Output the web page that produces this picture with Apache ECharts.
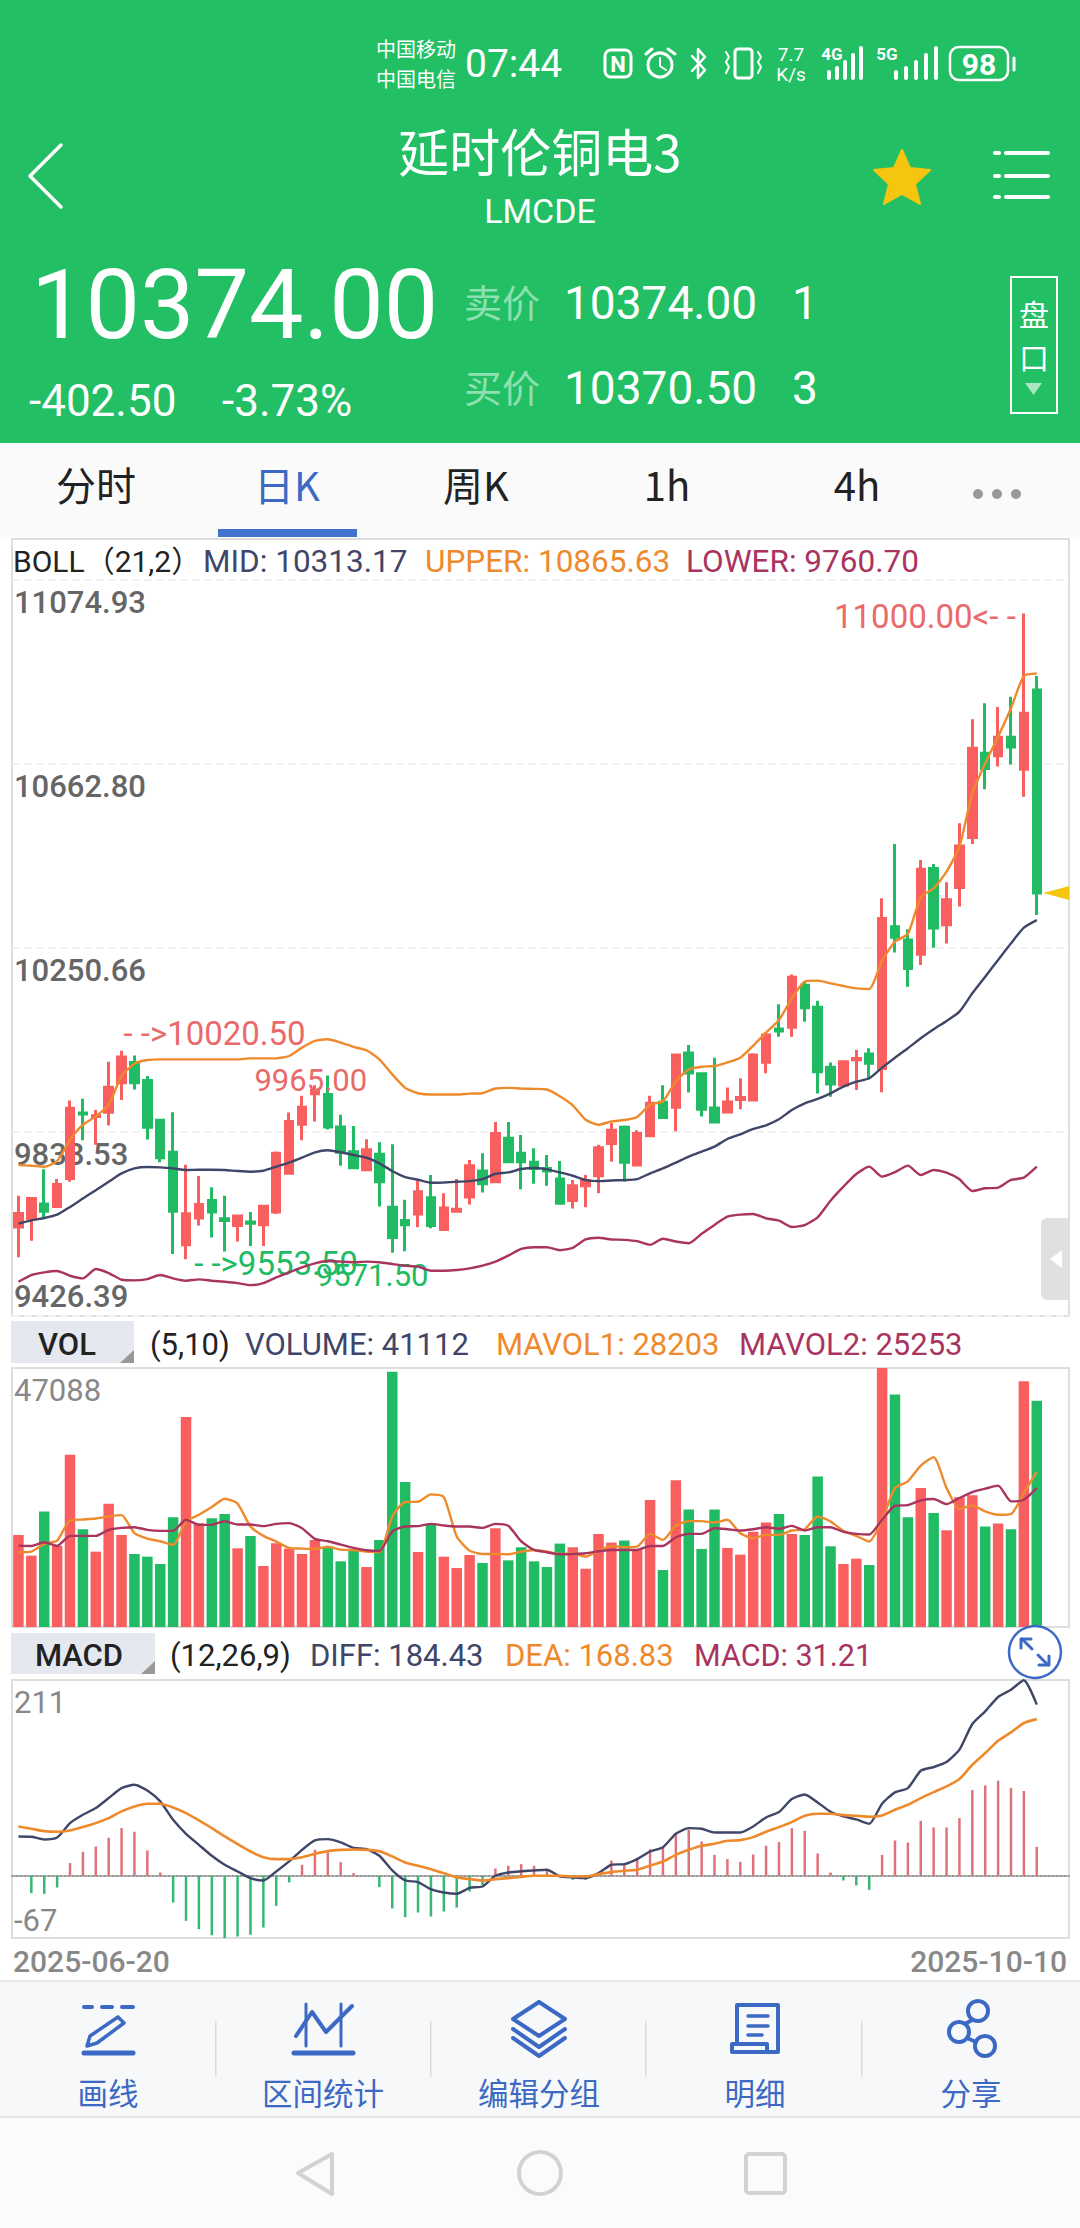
<!DOCTYPE html>
<html>
<head>
<meta charset="utf-8">
<style>html,body{margin:0;padding:0;background:#fff}#chart{width:1080px;height:2228px}</style>
<script src="https://cdn.jsdelivr.net/npm/echarts@6/dist/echarts.min.js"></script>
</head>
<body>
<div id="chart"></div>
<script>
// 日K data. rows are [open, close, low, high]
const ohlc = [
  [9626,9656,9558,9696],[9644,9689.5,9595,9692.5],[9677,9661,9648,9755],[9671.5,9721,9670,9733],[9734.5,9892,9727,9909],
  [9881,9879,9820,9913],[9873.5,9875,9810,9888],[9883,9939,9853,9996],[9949,10006.5,9910,10020.5],[9994,9949,9934,10010],
  [9954,9849,9822,9964],[9865,9781,9771,9868],[9793,9661,9565.5,9883],[9586,9655.5,9553.5,9765],[9646,9676,9629,9740],
  [9685,9659.5,9602,9715],[9644.5,9640.5,9571,9695.5],[9629,9650.5,9593,9652],[9637,9634,9583,9659.5],[9631,9672,9583,9673],
  [9659.5,9791,9655,9795],[9746,9862,9746,9882],[9856,9894,9820,9919.5],[9924,9931.5,9862,9943.5],[9922.5,9850,9844,9965],
  [9850,9793,9763,9877],[9794.5,9758.5,9757,9852],[9754,9799,9751,9822.5],[9788.5,9727,9671.5,9815.5],[9670,9602,9568,9811],
  [9640.5,9631,9571.5,9687],[9655,9704.5,9625,9728.5],[9691.5,9629,9623,9742],[9620,9668.5,9619,9701.5],[9661,9665.5,9661,9733],
  [9693,9763,9676,9776],[9751,9722.5,9703,9791],[9727,9835,9725.5,9861],[9824.5,9772,9770.5,9861],[9791,9772,9710.5,9832],
  [9770.5,9757,9722.5,9802],[9757,9751,9718,9787],[9733,9679,9676,9773.5],[9685,9718,9667,9731],[9718,9730,9670,9742],
  [9740.5,9803.5,9701.5,9810],[9812.5,9842.5,9772,9858.5],[9849,9770.5,9727,9853],[9764.5,9835,9764.5,9842.5],[9830,9903,9828.5,9919.5],
  [9905,9871,9871,9943.5],[9894,10011,9840,10011],[10015.5,9970.5,9927,10033.5],[9969,9889.5,9873,9970.5],[9892.5,9861,9858,10005],
  [9883.5,9906,9883.5,9938],[9911.5,9916,9889.5,9959],[9910,10011,9910,10015],[9994.5,10056,9970,10062],[10069.5,10065,10052,10124.5],
  [10073,10185,10052,10191.5],[10167,10117,10085.5,10175.5],[10118,9973.5,9925,10132.5],[9983.5,9946,9917.5,9994],[9944,9996,9940,9998.5],
  [10000.5,10003,9932.5,10022],[10013.5,9992.5,9956.5,10026],[9981,10317,9927.5,10362],[10298.5,10274.5,10240.5,10483.5],[10268.5,10205,10164,10292.5],
  [10236.5,10427,10212.5,10448],[10429,10295.5,10251.5,10439],[10302.5,10358.5,10261,10398],[10386,10479,10343.5,10530],[10498,10698,10483.5,10763],
  [10687,10652.5,10606,10799],[10681.5,10722.5,10657,10790.5],[10722.5,10701,10661.5,10813.5],[10651,10776.5,10589.5,11000],[10828.5,10374,10324.5,10860]
];
const bollUpper = [
  9764.6,9763.1,9760.8,9773.6,9820.9,9854.8,9873.5,9899.8,9963.7,9991.5,
  9999.8,10001.3,10001.3,10001.3,10001.3,10001.3,10001.3,10001.3,10003.5,10003.5,
  10003.5,10008.8,10027.6,10042.6,10046.4,10038.9,10029.1,10021.6,10001.3,9967.5,
  9937.4,9925.4,9922.4,9922.4,9922.4,9924.6,9925.4,9935.9,9937.4,9935.9,
  9935.2,9933.7,9918.6,9898.3,9866,9854.8,9862.3,9865.3,9872.1,9899.8,
  9907.4,9952.4,9978.7,9984.8,9986.3,9994.6,10005.1,10031.9,10061.1,10089.4,
  10138,10175.3,10177.5,10171.5,10165.6,10160.3,10158.9,10222,10264.9,10282.1,
  10364.2,10384.4,10421.7,10477.7,10597.2,10664.4,10724.1,10787.6,10860,10865.63
];
const bollMid = [
  9633.1,9640.6,9645.9,9653.4,9670.7,9689.5,9708.2,9727,9745.8,9757.1,
  9760.1,9759.3,9757.1,9753.3,9754.1,9754.1,9753.3,9751.1,9749.6,9751.8,
  9760.8,9769.9,9781.1,9793.1,9797.6,9793.1,9787.1,9781.1,9768.4,9751.1,
  9737.5,9731.5,9724.8,9725.5,9727,9728.5,9733,9745,9748,9755.6,
  9757.8,9754.8,9748,9740.5,9730.8,9728.5,9730,9730.8,9733,9745.8,
  9757.1,9769.9,9783.4,9794.7,9805.9,9822.9,9833.3,9845.3,9853.5,9866.9,
  9887.8,9902.8,9912.5,9925.2,9940.1,9951.3,9958.8,9982.7,10005,10026,
  10048.4,10068.5,10087.2,10108.1,10149.2,10186.5,10223.8,10261.2,10296.2,10313.17
];
const bollLower = [
  9503.1,9518.1,9524.1,9527.1,9516.6,9510.6,9531.7,9522.6,9507.6,9506.1,
  9509.1,9518.1,9510.6,9505.4,9508.4,9505.4,9503.1,9500.1,9495.6,9500.1,
  9512.9,9524.1,9535.4,9544.4,9549.7,9548.2,9546.7,9548.2,9546.7,9542.9,
  9539.2,9536.9,9527.9,9527.9,9529.4,9533.2,9539.2,9548.2,9561.7,9576.7,
  9580.5,9580.5,9573.7,9579,9597.8,9601.5,9597.8,9597,9594,9585.8,
  9599.3,9593.3,9589.5,9610.6,9630.5,9648.9,9653.4,9654.9,9645.2,9639.9,
  9625.7,9630.2,9647.4,9684.7,9716.1,9744.4,9760.9,9738.5,9748.5,9763.2,
  9742.3,9753.5,9747.5,9732.5,9706.4,9712.4,9713.9,9731.1,9736.3,9760.7
];
const volume = [
  16748,12972,21011,14738,31303,17783,13703,22411,16748,13276,
  12789,11449,19975,38184,18879,19793,20523,14312,16565,11084,
  15225,14251,13276,15834,14616,11936,14007,10901,15834,46406,
  26370,13642,18575,12789,10718,13094,11632,17966,12119,14494,
  11936,10901,15164,14494,10597,16930,15347,15712,14007,23081,
  10353,26674,21376,14190,21376,14372,13154,17296,19001,20523,
  16930,16748,27344,14677,11449,12424,11267,47088,42265,19975,
  25274,20706,17600,23568,23934,18270,18818,17783,44701,41112
];
const mavol1 = [
  13581,13703,15103,15712,19366,19549,19732,20097,20341,17052,
  16078,15590,14921,19184,20402,21802,23325,22411,18270,16565,
  15530,14372,14251,14190,14616,14068,14007,13703,13642,20097,
  22716,22777,24116,23629,16443,13885,13276,13276,13215,13703,
  14007,13703,13276,13398,12789,13885,14738,14494,14616,16930,
  15834,18392,19244,19244,19001,19488,17052,16139,16748,16748,
  17539,17783,20097,19184,17478,16565,15530,19488,25274,26492,
  29354,30876,25274,21437,22107,21011,20402,20523,24360,28203
];
const mavol2 = [
  14799,14738,15408,14738,16565,16565,16565,17661,18026,18148,
  17661,17478,17478,19488,18575,18575,19244,18635,18635,18331,
  18757,18879,17966,16017,15590,14981,14372,13946,13824,17357,
  18270,18331,18757,18453,18270,18270,18026,18757,18392,15590,
  14007,13581,13215,13276,13398,13763,14007,14007,14007,14738,
  14738,16321,16930,16930,17966,17783,17539,17783,18148,17844,
  18392,17539,18148,18148,17296,16930,16808,19488,22046,22168,
  23020,23264,22350,23447,24543,25152,25700,22838,23142,25253
];
const diff = [
  42.4,42.1,39.2,41.3,56.8,65.8,73,83.8,94.5,98.1,
  92,80.2,60.4,45.3,33.4,21.6,11.9,4.7,-2.5,-5,
  4.7,15.5,28,38.1,39.5,36,30.2,28.8,21.6,5.8,
  -5,-6.8,-14.4,-18,-19.4,-12.9,-11.5,0,3.6,5,
  5.8,6.5,-0.7,-1.8,-2.5,2.9,11.9,12.6,18,26.2,
  30.9,45.3,51.4,50.7,46.7,46.7,46.7,53.2,62.9,68.7,
  82.7,87.7,79.1,69,64,60.8,56.1,77.7,89.9,94.5,
  113.2,117.2,122.6,135.9,163.6,177.2,192.7,200.6,210.7,184.43
];
const dea = [
  53.2,50.7,48.2,47.5,48.9,52.5,56.8,62.2,69.4,74.8,
  77.7,77.7,73.7,67.6,59.7,51.4,42.4,34.2,26.2,20.1,
  18,18,20.1,23.7,26.6,28,28.4,28,26.6,20.9,
  14.4,10.8,7.2,2.9,-1.4,-3.6,-5,-3.6,-2.5,-1.1,
  0,0,0,-0.7,-0.7,1.8,4,5.4,6.5,11.1,
  15.5,22.6,28,32.4,34.5,37.7,38.5,41.7,47.5,52.5,
  57.9,64.7,66.9,66.9,65.4,64.7,63.6,65.1,71.2,76.6,
  83.8,90.2,96.3,104.3,119.7,132.3,145.6,154.6,164.7,168.83
];
const macd = [
  0,-18.7,-19.4,-12.6,13.7,25.9,31.6,41,51.4,47.5,
  27.3,3.6,-28.8,-48.5,-57.5,-64,-67,-65.4,-63.6,-55.7,
  -32.4,-7.2,11.9,28,25.2,14.7,2.9,0,-12.2,-35.2,
  -44.6,-39.5,-43.9,-38.5,-34.2,-16.9,-9.7,7.9,10.8,12.6,
  10.8,7.2,-1.4,-4.3,-4.3,4,16.5,12.9,18,28.8,
  30.2,46,49.6,37,22.6,18,15.1,23,32.4,36.3,
  51.4,48.5,24.1,3.6,-5,-10.4,-15.1,22.6,38.1,35.9,
  59.3,52.1,52.1,62.2,92.4,97.4,102.5,94.5,91.3,31.21
];
const priceTicks = [9426.39, 9838.53, 10250.66, 10662.80, 11074.93];
const volTicks = [47088];
const macdTicks = [-67, 211];
const dates = ['2025-06-20', '2025-10-10'];
const tabs = ['分时', '日K', '周K', '1h', '4h'];
const tools = ['画线', '区间统计', '编辑分组', '明细', '分享'];

const RED = '#f95f5f', GREEN = '#20bb62', ORANGE = '#ee8a2c', NAVY = '#3f4668', CRIMSON = '#a8345f';
const BLUE = '#3c69c4', NUM = 'Roboto, "Noto Sans CJK SC", sans-serif', CJK = '"Noto Sans CJK SC", Roboto, sans-serif';

// 82 slots: the last two stay empty, as the app leaves room on the right
const categories = [];
for (let i = 0; i < 82; i++) categories.push(i < ohlc.length ? String(i) : '');

function txt(x, y, text, size, fill, opt) {
  opt = opt || {};
  return {
    type: 'text', x: x, y: y, z: 20,
    style: {
      text: text, fill: fill, fontSize: size, fontFamily: opt.font || NUM, fontWeight: opt.weight || 400,
      align: opt.align || 'left', verticalAlign: 'middle'
    }
  };
}
function rect(x, y, w, h, fill, r) {
  return { type: 'rect', z: 19, shape: { x: x, y: y, width: w, height: h, r: r || 0 }, style: { fill: fill } };
}
function line(points, color, width) {
  return { type: 'polyline', z: 20, shape: { points: points }, style: { stroke: color, lineWidth: width || 2, fill: null, lineCap: 'round', lineJoin: 'round' } };
}
function circle(cx, cy, r, color, width) {
  return { type: 'circle', z: 20, shape: { cx: cx, cy: cy, r: r }, style: { stroke: color, lineWidth: width || 2, fill: null } };
}
function box(x, y, w, h, r, color, width) {
  return { type: 'rect', z: 20, shape: { x: x, y: y, width: w, height: h, r: r }, style: { stroke: color, lineWidth: width || 2, fill: null } };
}
function solid(points, fill) {
  return { type: 'polygon', z: 20, shape: { points: points }, style: { fill: fill } };
}

var g = [];
// header
g.push(rect(0, 0, 1080, 443, '#22bf64'));
g.push(rect(0, 443, 1080, 94, '#fafafa'));
g.push(txt(376, 48, '中国移动', 20, '#fff', { font: CJK }));
g.push(txt(376, 78, '中国电信', 20, '#fff', { font: CJK }));
g.push(txt(465, 64, '07:44', 39, '#fff'));
g.push(box(605, 50, 26, 27, 6, '#fff', 3), txt(618, 64, 'N', 22, '#fff', { align: 'center', weight: 700 }));
g.push(circle(660, 65, 12, '#fff', 3), line([[660, 58], [660, 66], [666, 70]], '#fff', 2), line([[646, 54], [652, 49]], '#fff', 3), line([[668, 49], [675, 54]], '#fff', 3));
g.push(line([[692, 56], [705, 70], [698, 78], [698, 49], [705, 57], [692, 71]], '#fff', 2.5));
g.push(box(735, 49, 17, 29, 3, '#fff', 3), line([[726, 52], [729, 57], [726, 62], [729, 67], [726, 73]], '#fff', 2), line([[758, 52], [761, 57], [758, 62], [761, 67], [758, 73]], '#fff', 2));
g.push(txt(791, 54, '7.7', 19, '#fff', { align: 'center' }), txt(791, 74, 'K/s', 19, '#fff', { align: 'center' }));
g.push(txt(832, 54, '4G', 17, '#fff', { align: 'center', weight: 700 }), txt(887, 54, '5G', 17, '#fff', { align: 'center', weight: 700 }));
[[829, 72], [837, 68], [845, 62], [853, 55], [861, 48]].forEach(function (b) { g.push(line([[b[0], b[1]], [b[0], 78]], '#fff', 4)); });
[[896, 72], [906, 68], [916, 62], [926, 55], [936, 48]].forEach(function (b) { g.push(line([[b[0], b[1]], [b[0], 78]], '#fff', 4)); });
g.push(box(950, 47, 58, 33, 9, '#fff', 2.5), txt(979, 64, '98', 30, '#fff', { align: 'center', weight: 700 }), line([[1014, 58], [1014, 70]], '#fff', 3));

g.push(line([[61, 145], [30, 176], [61, 207]], '#fff', 3.5));
g.push(txt(540, 150, '延时伦铜电3', 51, '#fff', { font: CJK, align: 'center' }));
g.push(txt(540, 211, 'LMCDE', 34, '#fff', { align: 'center' }));
g.push({
  type: 'polygon', z: 20,
  shape: { points: [[902, 150], [910, 168], [930, 170], [915, 184], [920, 204], [902, 194], [884, 204], [889, 184], [874, 170], [894, 168]] },
  style: { fill: '#f6c50f', stroke: '#f6c50f', lineWidth: 2, lineJoin: 'round' }
});
[153, 176, 197].forEach(function (y) {
  g.push(line([[995, y], [999, y]], '#fff', 4), line([[1006, y], [1048, y]], '#fff', 4));
});
g.push(txt(31, 305, '10374.00', 97, '#fff'));
g.push(txt(29, 401, '-402.50', 44, '#fff'), txt(222, 401, '-3.73%', 44, '#fff'));
g.push(txt(464, 300, '卖价', 38, '#8fe0b0', { font: CJK }), txt(564, 303, '10374.00', 46, '#fff'), txt(805, 303, '1', 46, '#fff', { align: 'center' }));
g.push(txt(464, 385, '买价', 38, '#8fe0b0', { font: CJK }), txt(564, 388, '10370.50', 46, '#fff'), txt(805, 388, '3', 46, '#fff', { align: 'center' }));
g.push(box(1011, 277, 46, 136, 0, '#fff', 2), txt(1034, 313, '盘', 30, '#fff', { font: CJK, align: 'center' }), txt(1034, 356, '口', 30, '#fff', { font: CJK, align: 'center' }));
g.push(solid([[1025, 383], [1042, 383], [1033.5, 395]], '#a8e6c4'));

// tabs
var tabX = [96, 287, 476, 667, 857];
tabs.forEach(function (t, i) {
  g.push(txt(tabX[i], 484, t, 40, i === 1 ? BLUE : '#222', { font: CJK, align: 'center' }));
});
g.push(rect(218, 529, 139, 8, '#4473cf'));
[978, 997, 1016].forEach(function (x) { g.push({ type: 'circle', z: 20, shape: { cx: x, cy: 494, r: 5 }, style: { fill: '#999' } }); });

// boll legend
g.push(txt(13, 561, 'BOLL（21,2）', 30, '#222', { font: NUM }));
g.push(txt(203, 561, 'MID: 10313.17', 31.5, NAVY), txt(425, 561, 'UPPER: 10865.63', 31.5, ORANGE), txt(686, 561, 'LOWER: 9760.70', 31.5, CRIMSON));
// side handle
g.push({ type: 'rect', z: 19, shape: { x: 1041, y: 1218, width: 27, height: 82, r: [6, 0, 0, 6] }, style: { fill: '#e0e0e0' } });
g.push(solid([[1062, 1250], [1062, 1268], [1050, 1259]], '#fff'));

// vol legend
g.push(rect(11, 1321, 123, 42, '#e6e8f0'), solid([[134, 1350], [134, 1363], [120, 1363]], '#999'));
g.push(txt(67, 1344, 'VOL', 31, '#222', { align: 'center', weight: 500 }));
g.push(txt(150, 1344, '(5,10)', 31, '#222'), txt(245, 1344, 'VOLUME: 41112', 31, NAVY), txt(496, 1344, 'MAVOL1: 28203', 31, ORANGE), txt(739, 1344, 'MAVOL2: 25253', 31, CRIMSON));
// macd legend
g.push(rect(11, 1633, 144, 41, '#e6e8f0'), solid([[155, 1661], [155, 1674], [141, 1674]], '#999'));
g.push(txt(79, 1655, 'MACD', 31, '#222', { align: 'center', weight: 500 }));
g.push(txt(170, 1655, '(12,26,9)', 31, '#222'), txt(310, 1655, 'DIFF: 184.43', 31, NAVY), txt(505, 1655, 'DEA: 168.83', 31, ORANGE), txt(694, 1655, 'MACD: 31.21', 30.5, CRIMSON));
g.push({ type: 'circle', z: 20, shape: { cx: 1035, cy: 1652, r: 26 }, style: { fill: '#fff', stroke: BLUE, lineWidth: 2.5 } });
g.push(line([[1022, 1639], [1032, 1649]], BLUE, 3), line([[1021, 1648], [1021, 1639], [1031, 1639]], BLUE, 3), line([[1038, 1655], [1048, 1665]], BLUE, 3), line([[1049, 1656], [1049, 1665], [1039, 1665]], BLUE, 3));

// dates
g.push(txt(13, 1961, dates[0], 30, '#888', { weight: 500 }), txt(1067, 1961, dates[1], 30, '#888', { weight: 500, align: 'right' }));

// toolbar
g.push(rect(0, 1981, 1080, 136, '#f7f8f9'), rect(0, 2117, 1080, 111, '#fbfbfb'));
g.push(rect(0, 1980, 1080, 2, '#e6e6e6'), rect(0, 2116, 1080, 2, '#e6e6e6'));
[215, 430, 645, 861].forEach(function (x) { g.push(rect(x, 2021, 1.5, 56, '#dcdcdc')); });
var toolX = [108, 323, 539, 755, 971];
tools.forEach(function (t, i) { g.push(txt(toolX[i], 2092, t, 30.5, BLUE, { font: CJK, align: 'center' })); });
// 画线
g.push(line([[84, 2007], [92, 2007]], BLUE, 4), line([[102, 2007], [112, 2007]], BLUE, 4), line([[122, 2007], [133, 2007]], BLUE, 4), line([[84, 2053], [133, 2053]], BLUE, 5));
g.push(line([[118, 2017], [124, 2023], [97, 2043], [87, 2046], [90, 2036], [118, 2017]], BLUE, 3.5));
// 区间统计
g.push(line([[306, 2004], [306, 2046]], BLUE, 3), line([[341, 2004], [341, 2046]], BLUE, 3));
g.push(line([[296, 2036], [312, 2012], [326, 2032], [352, 2006]], BLUE, 4), line([[294, 2053], [353, 2053]], BLUE, 5));
// 编辑分组
g.push(line([[539, 2002], [565, 2019], [539, 2036], [513, 2019], [539, 2002]], BLUE, 4), line([[513, 2029], [539, 2047], [565, 2029]], BLUE, 4), line([[513, 2038], [539, 2056], [565, 2038]], BLUE, 4));
// 明细
g.push(line([[737, 2044], [737, 2005], [778, 2005], [778, 2052], [732, 2052], [732, 2044], [767, 2044], [767, 2052]], BLUE, 4));
g.push(line([[748, 2016], [768, 2016]], BLUE, 3.5), line([[748, 2026], [768, 2026]], BLUE, 3.5), line([[748, 2035], [762, 2035]], BLUE, 3.5));
// 分享
g.push(circle(978, 2011, 10, BLUE, 4), circle(959, 2032, 10, BLUE, 4), circle(985, 2046, 10, BLUE, 4), line([[972, 2020], [965, 2024]], BLUE, 4), line([[967, 2038], [976, 2042]], BLUE, 4));
// nav
g.push(line([[332, 2154], [298, 2173], [332, 2194], [332, 2154]], '#d2d2d2', 4), circle(540, 2173, 21, '#d2d2d2', 4), box(746, 2154, 39, 39, 3, '#d2d2d2', 4));

function ma(name, data, color, xi, yi, width) {
  return {
    name: name, type: 'line', data: data, xAxisIndex: xi, yAxisIndex: yi, showSymbol: false, symbol: 'none', smooth: 0.2,
    z: 5, silent: true, animation: false, lineStyle: { color: color, width: width || 2.4 }
  };
}
function note(index, value, text, color, offset, size) {
  return {
    coord: [index, value], symbol: 'circle', symbolSize: 0,
    label: { show: true, formatter: text, color: color, fontSize: size, fontFamily: NUM, position: 'inside', offset: offset }
  };
}
function xAxisAt(i, showZero) {
  return {
    type: 'category', gridIndex: i, data: categories, boundaryGap: true,
    axisLabel: { show: false }, axisTick: { show: false }, splitLine: { show: false },
    axisLine: showZero ? { show: true, onZero: true, lineStyle: { color: '#999', type: 'dotted', width: 2 } } : { show: false }
  };
}

var chart = echarts.init(document.getElementById('chart'), null, { renderer: 'svg', width: 1080, height: 2228 });
chart.setOption({
  animation: false,
  backgroundColor: '#fff',
  graphic: g,
  grid: [
    { left: 12, width: 1057, top: 539, height: 777, show: true, borderColor: '#dedede', borderWidth: 2 },
    { left: 12, width: 1057, top: 1368, height: 259, show: true, borderColor: '#dedede', borderWidth: 2 },
    { left: 12, width: 1057, top: 1680, height: 258, show: true, borderColor: '#dedede', borderWidth: 2 }
  ],
  xAxis: [xAxisAt(0), xAxisAt(1), xAxisAt(2, true)],
  yAxis: [
    {
      gridIndex: 0, type: 'value', min: 9426.39, max: 11166.8,
      axisLine: { show: false },
      axisTick: { show: false, customValues: priceTicks },
      splitLine: { show: true, lineStyle: { color: '#f0f0f0', type: 'dashed', width: 2 } },
      axisLabel: {
        inside: true, margin: 2, customValues: priceTicks, color: '#666', fontSize: 31, fontWeight: 500, fontFamily: NUM,
        verticalAlign: 'top', verticalAlignMinLabel: 'bottom', padding: [7, 0, 4, 0],
        formatter: function (v) { return v.toFixed(2); }
      }
    },
    {
      gridIndex: 1, type: 'value', min: 0, max: 47088,
      axisLine: { show: false }, splitLine: { show: false },
      axisTick: { show: false, customValues: volTicks },
      axisLabel: {
        inside: true, margin: 2, customValues: volTicks, color: '#888', fontSize: 31, fontFamily: NUM,
        verticalAlign: 'top', verticalAlignMaxLabel: 'top', padding: [7, 0, 0, 0],
        formatter: function (v) { return String(v); }
      }
    },
    {
      gridIndex: 2, type: 'value', min: -67, max: 211,
      axisLine: { show: false }, splitLine: { show: false },
      axisTick: { show: false, customValues: macdTicks },
      axisLabel: {
        inside: true, margin: 2, customValues: macdTicks, color: '#888', fontSize: 31, fontFamily: NUM,
        verticalAlignMinLabel: 'bottom', verticalAlignMaxLabel: 'top', padding: [7, 0, 2, 0]
      }
    }
  ],
  series: [
    {
      name: '日K', type: 'candlestick', data: ohlc, xAxisIndex: 0, yAxisIndex: 0, barWidth: 8, z: 3,
      itemStyle: { color: RED, color0: GREEN, borderColor: RED, borderColor0: GREEN, borderWidth: 3 },
      markPoint: {
        animation: false, silent: true,
        data: [
          note(78, 11000, '11000.00<- -', '#e96a6a', [-99, 3], 33),
          note(8, 10020.5, '- ->10020.50', '#e96a6a', [93, -17], 33),
          note(24, 9965, '9965.00', '#e96a6a', [-17, 5], 31),
          note(13, 9553.5, '- ->9553.50', '#20bb62', [90, 4], 33),
          note(30, 9571.5, '9571.50', '#20bb62', [-33, 24], 31),
          {
            coord: [79, 10374], symbol: 'triangle', symbolSize: [14, 26], symbolRotate: 90, symbolOffset: [19.5, 0],
            itemStyle: { color: '#f6c50f' }, label: { show: false }
          }
        ]
      }
    },
    ma('UPPER', bollUpper, ORANGE, 0, 0),
    ma('MID', bollMid, NAVY, 0, 0),
    ma('LOWER', bollLower, CRIMSON, 0, 0),
    {
      name: 'VOLUME', type: 'bar', data: volume, xAxisIndex: 1, yAxisIndex: 1, barWidth: 10.5, z: 3,
      itemStyle: { color: function (p) { return ohlc[p.dataIndex][1] >= ohlc[p.dataIndex][0] ? RED : GREEN; } }
    },
    ma('MAVOL1', mavol1, ORANGE, 1, 1),
    ma('MAVOL2', mavol2, CRIMSON, 1, 1),
    {
      name: 'MACD', type: 'bar', data: macd, xAxisIndex: 2, yAxisIndex: 2, barWidth: 2.5, z: 3,
      itemStyle: { color: function (p) { return p.value >= 0 ? '#dd7379' : '#36b873'; } }
    },
    ma('DIFF', diff, NAVY, 2, 2),
    ma('DEA', dea, ORANGE, 2, 2, 2.6)
  ]
});
</script>
</body>
</html>
